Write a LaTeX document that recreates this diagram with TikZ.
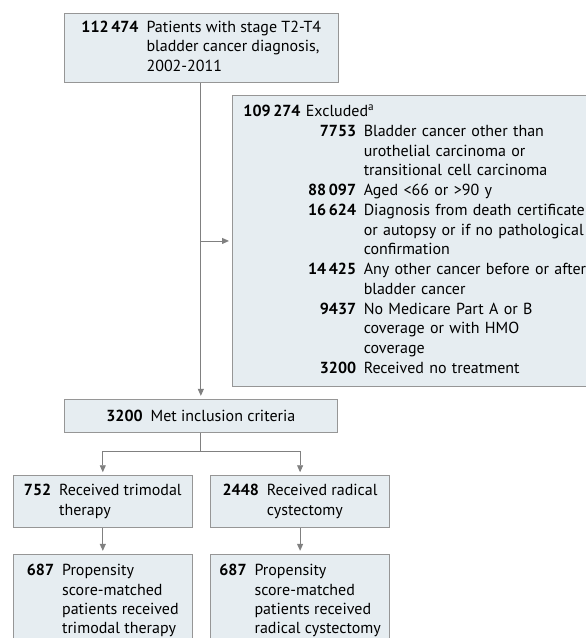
\documentclass[tikz,border=0pt]{standalone}
\usepackage{fontspec}
\setmainfont{PT Sans}
\usetikzlibrary{arrows.meta,calc}
\definecolor{boxfill}{RGB}{230,237,241}
\definecolor{boxline}{RGB}{150,150,150}
\definecolor{linegray}{RGB}{128,128,128}
\begin{document}
\begin{tikzpicture}[x=1pt,y=-1pt,
  every node/.style={font=\fontsize{16}{19.3}\selectfont},
  flowbox/.style={draw=boxline, fill=boxfill, line width=0.9pt, rectangle, inner sep=0pt, align=center},
  arr/.style={draw=linegray, line width=0.9pt, -{Triangle[length=7pt,width=6pt]}, shorten >=3pt},
  plain/.style={draw=linegray, line width=0.9pt}]
\useasboundingbox (0,0) rectangle (586,638);
\clip (0,0) rectangle (586,638);
\fill[white] (0,0) rectangle (586,638);

\node[flowbox, minimum width=274pt, minimum height=69.4pt] (top) at (201.3,48)
  {\begin{tabular}{@{}r@{\hspace{8pt}}l@{}}
   \textbf{112\,474} & Patients with stage T2-T4\\
    & bladder cancer diagnosis,\\
    & 2002-2011
   \end{tabular}};

\node[flowbox, anchor=north west, minimum height=291pt, inner xsep=11pt, text width=350pt, align=left,
      font=\fontsize{16}{19.75}\selectfont] (excl) at (232,95)
  {\begin{tabular}{@{}r@{\hspace{7.6pt}}l@{}}
   \multicolumn{2}{@{}l@{}}{\textbf{109\,274} Excluded\textsuperscript{a}}\\
   \makebox[112.7pt][r]{\textbf{7753}} & Bladder cancer other than\\
    & urothelial carcinoma or\\
    & transitional cell carcinoma\\
   \textbf{88\,097} & Aged <66 or >90 y\\
   \textbf{16\,624} & Diagnosis from death certificate\\
    & or autopsy or if no pathological\\
    & confirmation\\
   \textbf{14\,425} & Any other cancer before or after\\
    & bladder cancer\\
   \textbf{9437} & No Medicare Part A or B\\
    & coverage or with HMO\\
    & coverage\\
   \textbf{3200} & Received no treatment
   \end{tabular}};

\node[flowbox, minimum width=273.7pt, minimum height=33.4pt] (met) at (200.85,416)
  {\textbf{3200}\hspace{8pt}Met inclusion criteria};

\node[flowbox, minimum width=179pt, minimum height=52pt] (tmt) at (102.8,501.7)
  {\begin{tabular}{@{}r@{\hspace{8pt}}l@{}}
   \textbf{752} & Received trimodal\\
    & therapy
   \end{tabular}};

\node[flowbox, minimum width=178.8pt, minimum height=52pt] (rc) at (300.1,501.7)
  {\begin{tabular}{@{}r@{\hspace{8pt}}l@{}}
   \textbf{2448} & Received radical\\
    & cystectomy
   \end{tabular}};

\node[flowbox, minimum width=179pt, minimum height=93.4pt] (tmtm) at (102.8,601)
  {\begin{tabular}{@{}r@{\hspace{8pt}}l@{}}
   \textbf{687} & Propensity\\
    & score-matched\\
    & patients received\\
    & trimodal therapy
   \end{tabular}};

\node[flowbox, minimum width=178.8pt, minimum height=93.4pt] (rcm) at (300.1,601)
  {\begin{tabular}{@{}r@{\hspace{8pt}}l@{}}
   \textbf{687} & Propensity\\
    & score-matched\\
    & patients received\\
    & radical cystectomy
   \end{tabular}};

\coordinate (bx) at (met.north |- excl.west);
\draw[arr] (top.south -| met.north) -- (met.north);
\draw[arr] (bx) -- (excl.west);
\coordinate (split) at ($(met.south)+(0,18)$);
\draw[plain] (met.south) -- (split);
\draw[arr] (split) -| (tmt.north);
\draw[arr] (split) -| (rc.north);
\draw[arr] (tmt.south) -- (tmtm.north);
\draw[arr] (rc.south) -- (rcm.north);
\end{tikzpicture}
\end{document}
